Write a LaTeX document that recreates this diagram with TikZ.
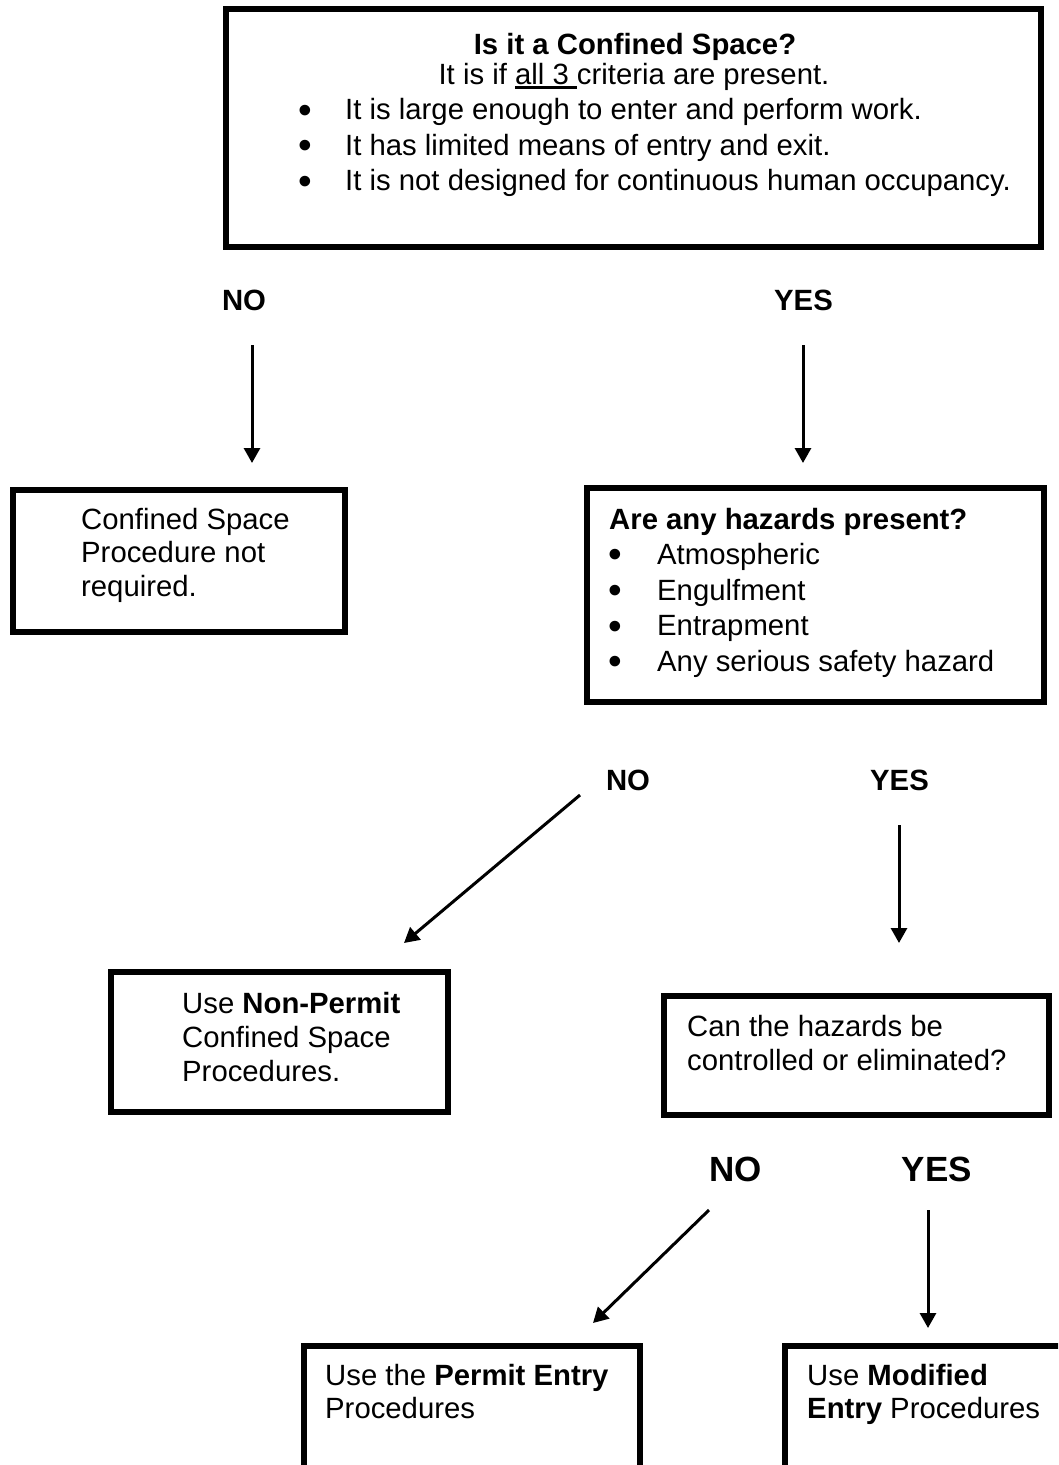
\documentclass[tikz,border=0pt]{standalone}
\usepackage{fontspec}
\setmainfont{Liberation Sans}
\usetikzlibrary{arrows.meta}
\newcommand\fs{\fontsize{29.3}{35.5}\selectfont}
\newcommand\ulx[1]{\setbox0\hbox{#1}\rlap{\rule[-4.5pt]{\wd0}{2.4pt}}\box0}
\begin{document}
\begin{tikzpicture}[x=1pt,y=-1pt,
  box/.style={draw, line width=5.8pt, rectangle, inner sep=0pt},
  txt/.style={anchor=base west, inner sep=0pt, font=\fs},
  ctxt/.style={anchor=base, inner sep=0pt, font=\fs},
  bul/.style={anchor=base, inner sep=0pt, yshift=-3.5pt, font=\fontsize{39}{39}\selectfont},
  lbl/.style={anchor=base, inner sep=0pt, font=\fs\bfseries},
  biglbl/.style={anchor=base, inner sep=0pt, font=\fontsize{35}{42}\selectfont\bfseries},
  arr/.style={line width=3pt, -{Triangle[width=16pt,length=15pt]}}
]
\clip (0,0) rectangle (1058,1465);
\fill[white] (0,0) rectangle (1058,1465);

% boxes
\node[box, minimum width=815pt, minimum height=238pt] (A) at (633.5,128) {};
\node[box, minimum width=332pt, minimum height=142pt] (B) at (179,561) {};
\node[box, minimum width=457pt, minimum height=214pt] (C) at (815.5,595) {};
\node[box, minimum width=337pt, minimum height=140pt] (D) at (279.5,1042) {};
\node[box, minimum width=385pt, minimum height=119pt] (E) at (856.5,1055.5) {};
\node[box, minimum width=336pt, minimum height=154pt] (F) at (472,1423) {};
\node[box, minimum width=315pt, minimum height=154pt] (G) at (942.5,1423) {};

% top box text
\node[ctxt, font=\fs\bfseries] (a1) at (635,54) {Is it a Confined Space?};
\node[ctxt] (a2) at (634,84) {It is if \ulx{all 3\ }criteria are present.};
\node[bul] (ab1) at (305,119.5) {•};
\node[txt] (at1) at (345,119.5) {It is large enough to enter and perform work.};
\node[bul] (ab2) at (305,155) {•};
\node[txt] (at2) at (345,155) {It has limited means of entry and exit.};
\node[bul] (ab3) at (305,190.5) {•};
\node[txt] (at3) at (345,190.5) {It is not designed for continuous human occupancy.};

% labels row 1
\node[lbl] (no1) at (244,310) {NO};
\node[lbl] (yes1) at (803.5,310) {YES};

% left box text
\node[txt] (b1) at (81,529) {Confined Space};
\node[txt] (b2) at (81,562.5) {Procedure not};
\node[txt] (b3) at (81,596) {required.};

% hazards box text
\node[txt, font=\fs\bfseries] (c0) at (609,529) {Are any hazards present?};
\node[bul] (cb1) at (615,564) {•};
\node[txt] (c1) at (657,564) {Atmospheric};
\node[bul] (cb2) at (615,600) {•};
\node[txt] (c2) at (657,600) {Engulfment};
\node[bul] (cb3) at (615,635.5) {•};
\node[txt] (c3) at (657,635.5) {Entrapment};
\node[bul] (cb4) at (615,671) {•};
\node[txt] (c4) at (657,671) {Any serious safety hazard};

% labels row 2
\node[lbl] (no2) at (628,790) {NO};
\node[lbl] (yes2) at (899.5,790) {YES};

% non-permit text
\node[txt] (d1) at (182,1013) {Use \textbf{Non-Permit}};
\node[txt] (d2) at (182,1047) {Confined Space};
\node[txt] (d3) at (182,1081) {Procedures.};

% can text
\node[txt] (e1) at (687,1036) {Can the hazards be};
\node[txt] (e2) at (687,1070) {controlled or eliminated?};

% labels row 3
\node[biglbl] (no3) at (735.5,1181) {NO};
\node[biglbl] (yes3) at (937,1181) {YES};

% permit text
\node[txt] (f1) at (325,1385) {Use the \textbf{Permit Entry}};
\node[txt] (f2) at (325,1418) {Procedures};

% modified text
\node[txt] (g1) at (807,1385) {Use \textbf{Modified}};
\node[txt] (g2) at (807,1418) {\textbf{Entry} Procedures};

% arrow end points
\coordinate (s1) at (252,345);  \coordinate (t1) at (252,463);
\coordinate (s2) at (803,345);  \coordinate (t2) at (803,463);
\coordinate (s3) at (580,795);  \coordinate (t3) at (404,943);
\coordinate (s4) at (899,825);  \coordinate (t4) at (899,943);
\coordinate (s5) at (709,1210); \coordinate (t5) at (593,1323);
\coordinate (s6) at (928,1210); \coordinate (t6) at (928,1328);

\draw[arr] (s1) -- (t1);
\draw[arr] (s2) -- (t2);
\draw[arr] (s3) -- (t3);
\draw[arr] (s4) -- (t4);
\draw[arr] (s5) -- (t5);
\draw[arr] (s6) -- (t6);
\end{tikzpicture}
\end{document}
